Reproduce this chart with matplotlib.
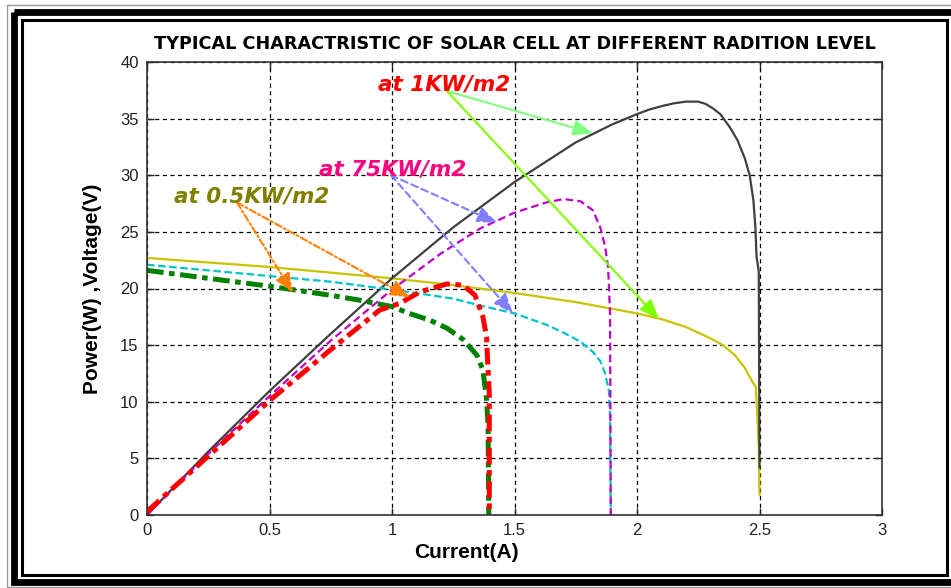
import matplotlib.pyplot as plt
from matplotlib.patches import Rectangle

plt.rcParams["lines.scale_dashes"] = False

# 1 KW/m2 : voltage and power against current
cur_v1 = [0, 0.25, 0.5, 0.75, 1.0, 1.25, 1.5, 1.75, 2.0, 2.1, 2.2, 2.3, 2.35, 2.4,
          2.44, 2.47, 2.485, 2.49, 2.497, 2.5]
volt_1 = [22.7, 22.3, 21.9, 21.4, 20.9, 20.3, 19.6, 18.8, 17.8, 17.3, 16.6, 15.6, 15.0, 14.1,
          13.0, 11.8, 11.3, 9.3, 6.0, 1.8]
cur_p1 = [0, 0.25, 0.5, 0.75, 1.0, 1.25, 1.5, 1.75, 1.9, 2.0, 2.05, 2.1, 2.15, 2.2, 2.25,
          2.28, 2.31, 2.34, 2.38, 2.41, 2.44, 2.46, 2.475, 2.483, 2.488, 2.497, 2.5]
pow_1 = [0, 5.6, 10.95, 16.0, 20.9, 25.4, 29.4, 32.9, 34.5, 35.4, 35.8, 36.1, 36.35, 36.5, 36.5,
         36.3, 35.9, 35.4, 34.2, 33.1, 31.5, 30.0, 27.8, 25.5, 22.8, 21.5, 4.2]

# 75 KW/m2
cur_v2 = [0, 0.25, 0.5, 0.75, 1.0, 1.1, 1.25, 1.36, 1.5, 1.63, 1.7, 1.77, 1.82, 1.85,
          1.87, 1.885, 1.89, 1.893]
volt_2 = [22.1, 21.6, 21.1, 20.6, 19.9, 19.6, 19.1, 18.5, 17.8, 16.8, 16.1, 15.3, 14.4, 13.6,
          12.5, 11.0, 8.7, 0]
cur_p2 = [0, 0.25, 0.5, 0.75, 1.0, 1.2, 1.36, 1.5, 1.63, 1.7, 1.77, 1.82, 1.85, 1.87,
          1.882, 1.89, 1.893]
pow_2 = [0, 5.4, 10.5, 15.4, 19.9, 23.1, 25.3, 26.7, 27.6, 27.9, 27.7, 26.9, 25.4, 23.7,
         21.9, 17.8, 0]

# 0.5 KW/m2
cur_v3 = [0, 0.25, 0.5, 0.75, 0.86, 1.0, 1.07, 1.155, 1.224, 1.29, 1.347, 1.371, 1.386,
          1.392, 1.395]
volt_3 = [21.6, 20.9, 20.2, 19.4, 19.0, 18.4, 17.8, 17.2, 16.5, 15.5, 14.1, 12.8, 10.2,
          8.0, 0]
cur_p3 = [0, 0.25, 0.5, 0.75, 0.95, 1.033, 1.114, 1.224, 1.29, 1.339, 1.371, 1.386, 1.39,
          1.397, 1.397]
pow_3 = [0.3, 5.2, 10.1, 14.6, 18.1, 18.7, 19.7, 20.4, 20.3, 19.4, 17.5, 15.7, 13.7,
         10.8, 0]

label_text = ["at 1KW/m2", "at 75KW/m2", "at 0.5KW/m2"]
label_pos = [(1.214, 37.44), (1.002, 30.02), (0.429, 27.55)]
arrow_tail = [(1.2245, 37.44), (0.996, 30.0), (0.367, 27.6)]
arrow_tips = [[(1.82, 33.7), (2.09, 17.3)],
              [(1.429, 25.8), (1.494, 17.8)],
              [(0.596, 19.6), (1.073, 19.2)]]

fig = plt.figure(figsize=(9.51, 5.88), dpi=100)
ax = fig.add_axes([147 / 951, 1 - 515 / 588, 735 / 951, 453 / 588])

ax.plot(cur_v1, volt_1, color="#c8c400", lw=1.6)
ax.plot(cur_p1, pow_1, color="#404040", lw=1.6)
ax.plot(cur_v2, volt_2, color="#00c4c8", lw=1.6, dashes=(5.5, 2.5))
ax.plot(cur_p2, pow_2, color="#c000c8", lw=1.6, dashes=(5.5, 3))
ax.plot(cur_v3, volt_3, color="#008000", lw=3.6, dashes=(12, 4, 4, 4))
ax.plot(cur_p3, pow_3, color="#ff0000", lw=3.6, dashes=(12, 4, 4, 4))

ax.set_xlim(0, 3)
ax.set_ylim(0, 40)
ax.set_xticks([0, 0.5, 1, 1.5, 2, 2.5, 3])
ax.set_xticklabels(["0", "0.5", "1", "1.5", "2", "2.5", "3"])
ax.set_yticks(range(0, 41, 5))
ax.grid(True, color="black", lw=0.9, dashes=(3, 2.5))
ax.tick_params(direction="in", length=5, width=1, top=True, right=True,
               labelsize=12, pad=6, colors="#222222")
for lab in ax.get_xticklabels() + ax.get_yticklabels():
    lab.set_family("Liberation Sans")
for sp in ax.spines.values():
    sp.set_color("#333333")
    sp.set_linewidth(1.2)

ax.set_title("TYPICAL CHARACTRISTIC OF SOLAR CELL AT DIFFERENT RADITION LEVEL",
             fontsize=12.7, fontweight="bold", family="DejaVu Sans", y=1.0276, pad=0)
ax.set_xlabel("Current(A)", fontsize=15, fontweight="bold", family="Liberation Sans")
ax.xaxis.set_label_coords(0.435, -0.062)
ax.set_ylabel("Power(W) ,Voltage(V)", fontsize=15, fontweight="bold",
              family="Liberation Sans", va="center")
ax.yaxis.set_label_coords(-0.0735, 0.5)

# arrows pointing from each label to its curves
arrow_styles = [
    [dict(color="#80ff80", ls="-"), dict(color="#80ff00", ls="-")],
    [dict(color="#8080ff", ls=(0, (5, 3))), dict(color="#8080ff", ls=(0, (5, 3)))],
    [dict(color="#ff8000", ls=(0, (5, 2, 1.5, 2))), dict(color="#ff8000", ls=(0, (5, 2, 1.5, 2)))],
]
for tail, tips, styles in zip(arrow_tail, arrow_tips, arrow_styles):
    for tip, st in zip(tips, styles):
        ax.annotate("", xy=tip, xytext=tail,
                    arrowprops=dict(arrowstyle="-|>,head_length=1.2,head_width=0.48",
                                    mutation_scale=10, lw=1.5, color=st["color"],
                                    linestyle=st["ls"], shrinkA=0, shrinkB=0))

label_colors = ["#ff0000", "#ff0080", "#808000"]
for txt, pos, col in zip(label_text, label_pos, label_colors):
    ax.text(pos[0], pos[1], txt, color=col, fontsize=15.5, fontweight="bold",
            style="italic", family="DejaVu Sans", ha="center", va="baseline")

# double border around the figure, drawn in pixel units
frame = fig.add_axes([0, 0, 1, 1], zorder=5)
frame.set_xlim(0, 951)
frame.set_ylim(588, 0)
frame.axis("off")
frame.add_patch(Rectangle((7, 5), 960, 582, fill=False, ec="#999999", lw=1.0))
frame.add_patch(Rectangle((13.5, 12), 960, 569.5, fill=False, ec="black", lw=4.9))
frame.add_patch(Rectangle((21.5, 19.5), 925, 555, fill=False, ec="black", lw=2.2))

fig.savefig("out.png", dpi=100)
